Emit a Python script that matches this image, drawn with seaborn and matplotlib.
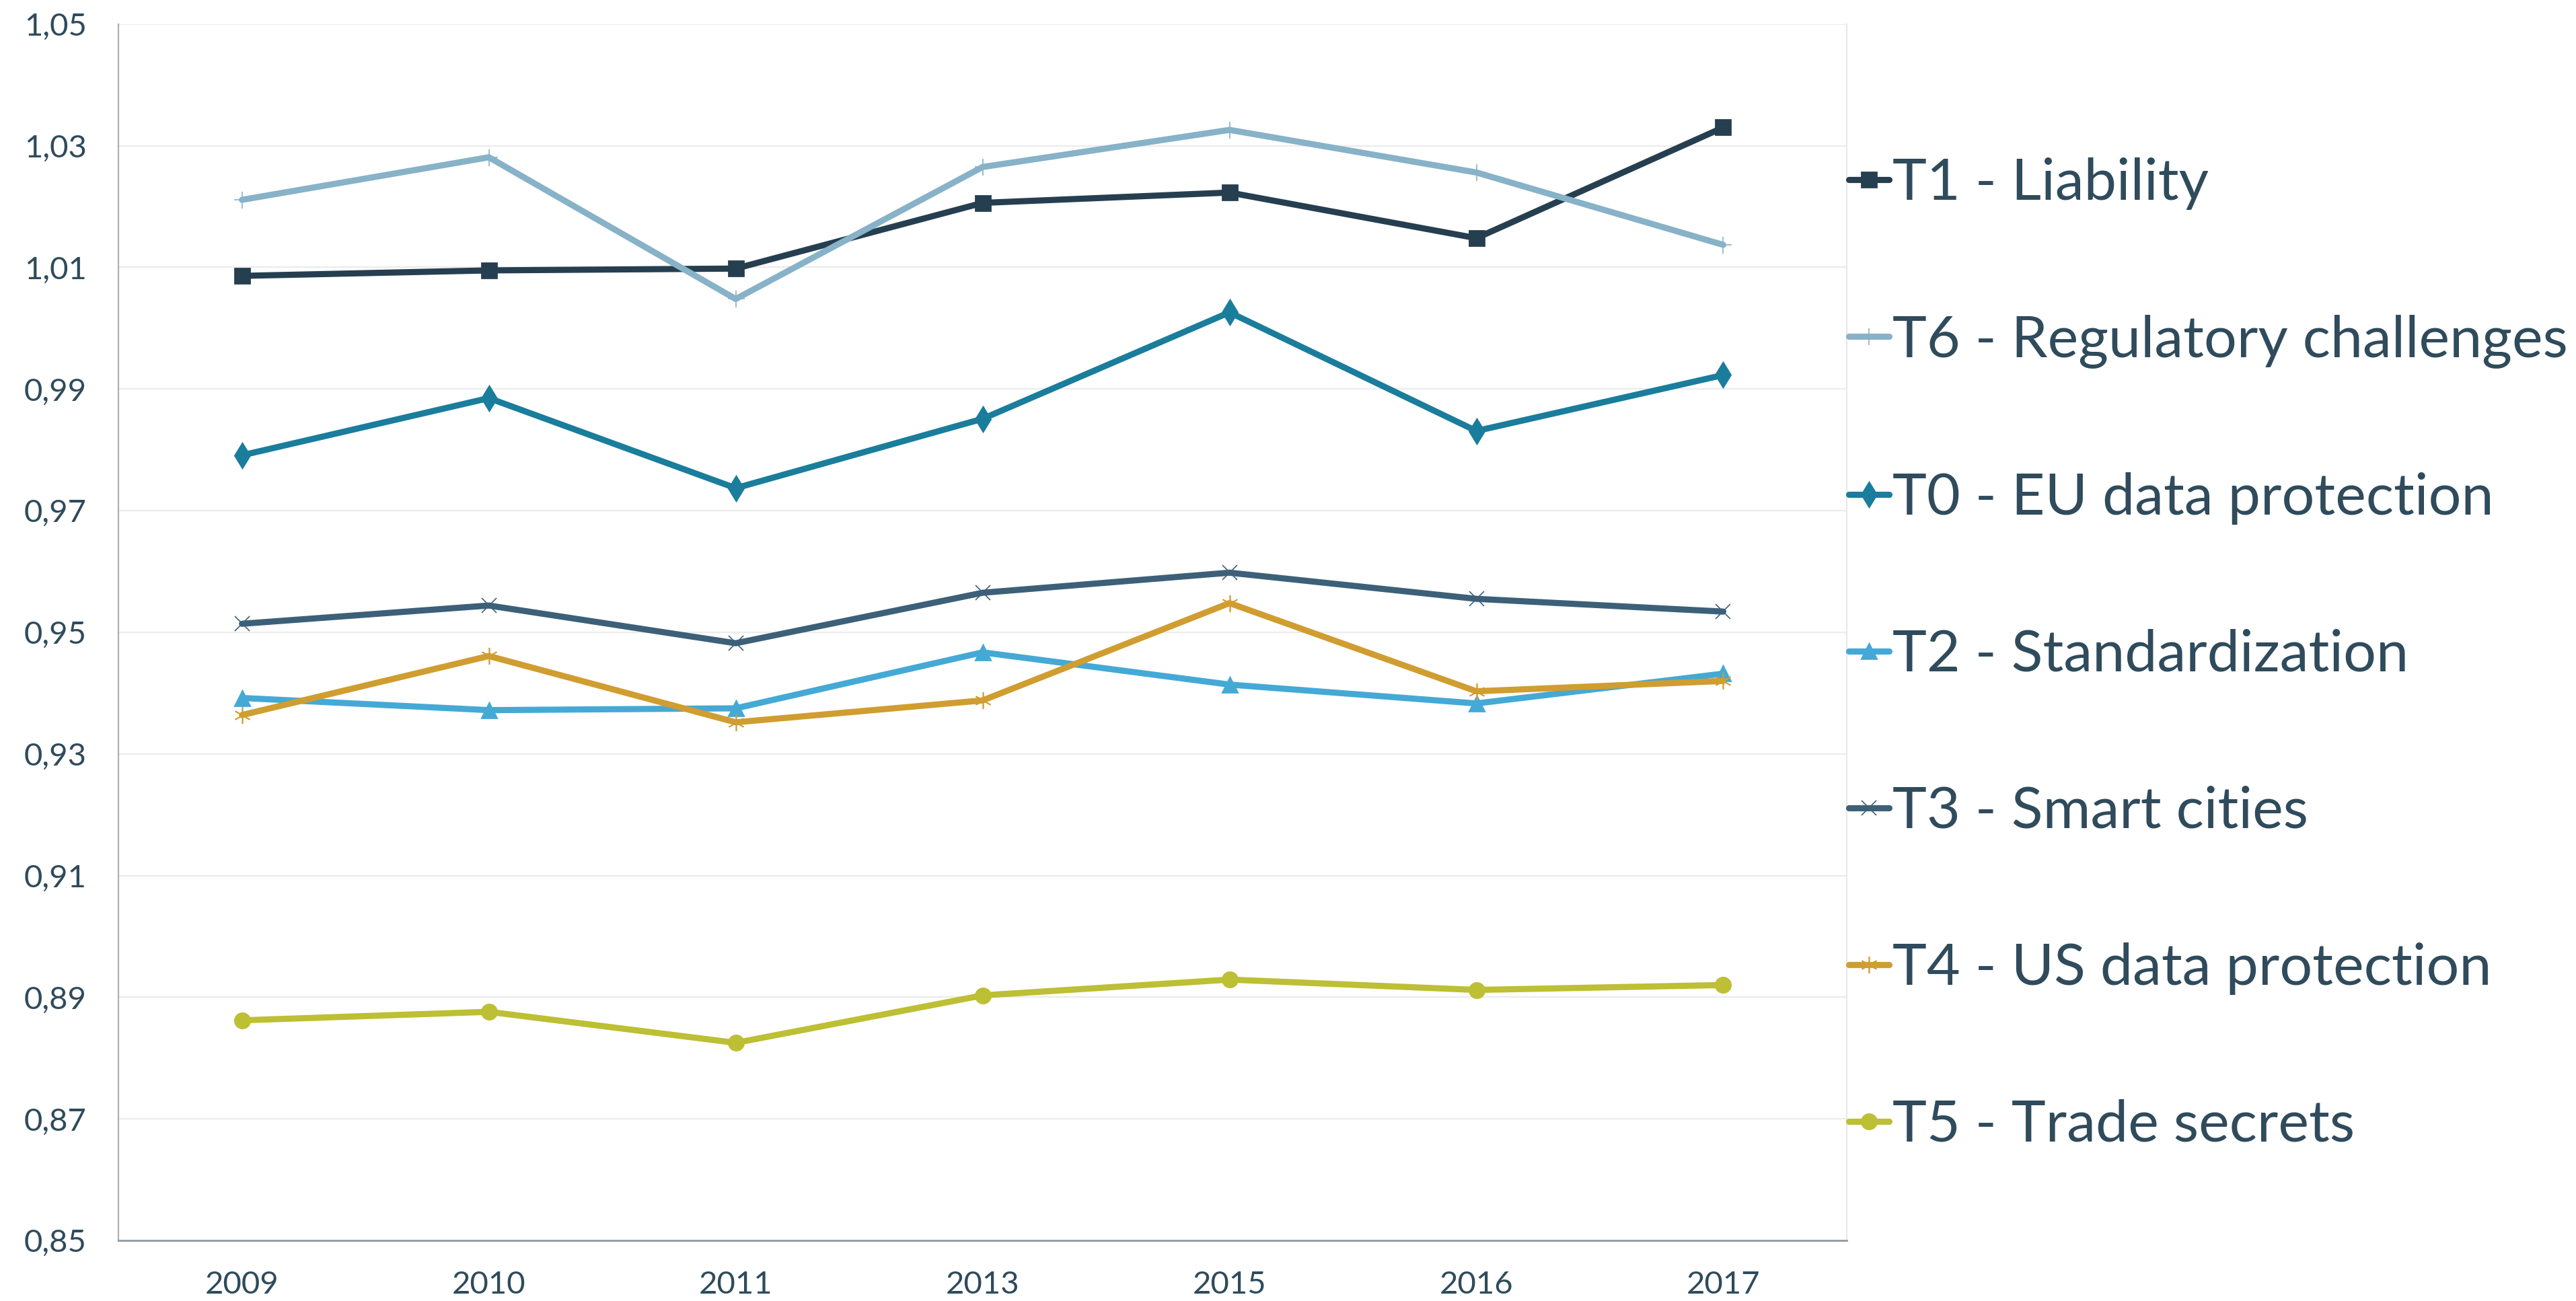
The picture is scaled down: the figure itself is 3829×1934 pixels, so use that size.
import pandas as pd
import matplotlib.pyplot as plt
import matplotlib.ticker as mticker
import seaborn as sns

years = ["2009", "2010", "2011", "2013", "2015", "2016", "2017"]

t1_liability = [1.0086, 1.0095, 1.0098, 1.0206, 1.0223, 1.0148, 1.0330]
t6_regulatory = [1.0211, 1.0281, 1.0048, 1.0265, 1.0326, 1.0256, 1.0137]
t0_eu_data = [0.9791, 0.9885, 0.9737, 0.9851, 1.0026, 0.9831, 0.9923]
t2_standard = [0.9392, 0.9372, 0.9375, 0.9467, 0.9414, 0.9383, 0.9432]
t3_smart = [0.9514, 0.9544, 0.9482, 0.9565, 0.9598, 0.9555, 0.9534]
t4_us_data = [0.9364, 0.9461, 0.9352, 0.9388, 0.9548, 0.9403, 0.9420]
t5_trade = [0.8862, 0.8876, 0.8825, 0.8903, 0.8929, 0.8912, 0.8920]

series = [
    ("T1 - Liability", t1_liability, "#263f50", "s", 8, 1.0),
    ("T6 - Regulatory challenges", t6_regulatory, "#87b2c8", "+", 9, 0.6),
    ("T0 - EU data protection", t0_eu_data, "#1a7d9c", "d", 9, 1.0),
    ("T2 - Standardization", t2_standard, "#45a9d5", "^", 8, 1.0),
    ("T3 - Smart cities", t3_smart, "#3d6079", "x", 8, 0.6),
    ("T4 - US data protection", t4_us_data, "#d09d30", (6, 2, 0), 9, 0.6),
    ("T5 - Trade secrets", t5_trade, "#bdbf34", "o", 8, 1.0),
]

text_color = "#2f4b5c"

sns.set_style("white")
plt.rcParams["font.family"] = ["Lato", "DejaVu Sans"]

fig = plt.figure(figsize=(19.15, 9.67), dpi=200)
ax = fig.add_axes([0.046, 0.0465, 0.6707, 0.935])

for name, vals, color, marker, msize, mew in series:
    df = pd.DataFrame({"year": years, "value": vals})
    sns.lineplot(
        data=df, x="year", y="value", ax=ax,
        color=color, marker=marker, markersize=msize,
        markeredgewidth=mew, markeredgecolor=color,
        linewidth=3.3, label=name,
    )

ax.set_xlim(-0.5, len(years) - 0.5)
ax.set_ylim(0.85, 1.05)
ax.set_yticks([0.85 + 0.02 * i for i in range(11)])
ax.yaxis.set_major_formatter(mticker.FuncFormatter(lambda v, p: f"{v:.2f}".replace(".", ",")))

ax.set_xticks(range(len(years)))
ax.set_xticklabels(years)
ax.set_xticks([i - 0.5 for i in range(len(years) + 1)], minor=True)

ax.tick_params(axis="x", which="major", length=0, pad=16, labelsize=17, labelcolor=text_color)
ax.tick_params(axis="x", which="minor", length=6, width=0.8, color="#c0c0c0", direction="out")
ax.tick_params(axis="y", length=0, pad=17, labelsize=17, labelcolor=text_color)

ax.yaxis.grid(True, color="#ececec", linewidth=0.8)
ax.xaxis.grid(False)
ax.set_axisbelow(True)

ax.spines["top"].set_visible(False)
ax.spines["left"].set_color("#b0b0b0")
ax.spines["left"].set_linewidth(0.8)
ax.spines["bottom"].set_color("#8e9ba4")
ax.spines["bottom"].set_linewidth(1.0)
ax.spines["right"].set_color("#e8e8e8")
ax.spines["right"].set_linewidth(0.8)

ax.set_xlabel("")
ax.set_ylabel("")

leg = ax.legend(
    loc="center left", bbox_to_anchor=(0.7175, 0.497),
    bbox_transform=fig.transFigure, frameon=False,
    fontsize=31, handlelength=0.7, handletextpad=0.05,
    labelspacing=1.8, borderaxespad=0, borderpad=0,
)
for t in leg.get_texts():
    t.set_color(text_color)

plt.savefig("out.png", dpi=200)
plt.close()
